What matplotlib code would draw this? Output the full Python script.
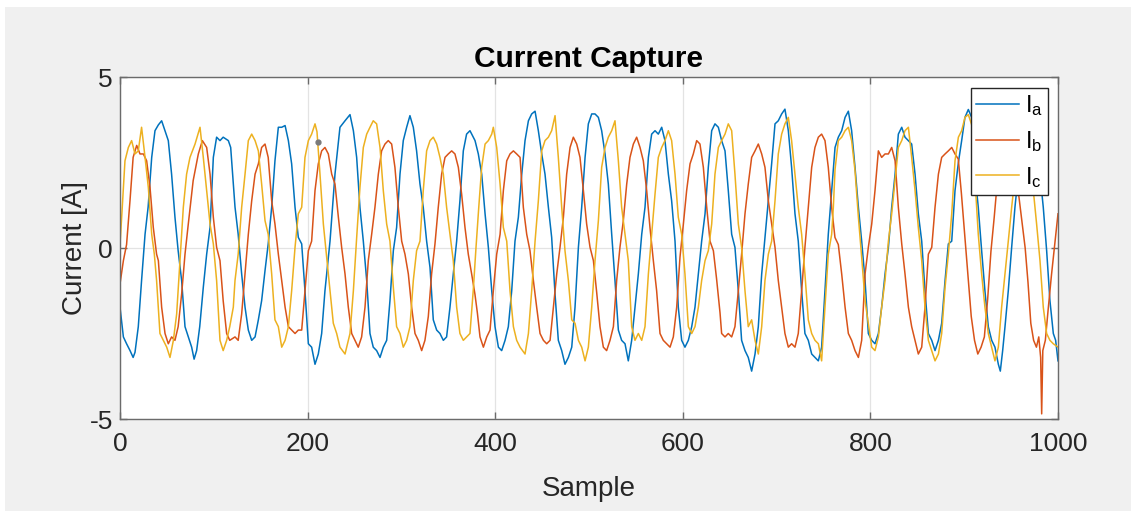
import matplotlib
matplotlib.use("Agg")
import matplotlib.pyplot as plt
from matplotlib.patches import Rectangle

# ---- three-phase current capture (sample index, amps) ----
ia_sample = [0, 3.6, 7, 10.7, 14, 16, 19.5, 23, 26.7, 30, 33.8, 37.3, 40.9, 44.4, 48, 51.5, 55, 58.6, 62,
             65.7, 69.3, 72.8, 76.4, 79, 81.7, 85, 88.8, 92.4, 96, 99.5, 103, 106.6, 110, 115.5, 118, 120.8,
             122.6, 126, 129.7, 133.3, 136.8, 140.4, 144, 147.5, 151, 154.6, 158, 161.7, 165.2, 168.8, 172.4,
             176, 179.5, 183, 186.6, 190.1, 193.7, 197.2, 200.8, 204.3, 207.9, 211.4, 215, 218.5, 223.9, 229.2,
             234.5, 239.9, 245.2, 248.8, 252.3, 255.8, 259.4, 263, 266.5, 270, 273.6, 277.2, 280.7, 284.3,
             287.8, 291.4, 294.9, 298.5, 302, 305.6, 309.1, 312.7, 316.2, 319.8, 323.3, 326.9, 330.5, 334,
             337.6, 341.1, 344.7, 348.2, 351.8, 355.3, 358.9, 362.4, 366, 369.5, 373.1, 376.7, 378.5, 382,
             385.6, 389.2, 392.7, 396.3, 399.8, 403.4, 406.9, 410.5, 414, 417.6, 421.1, 424.7, 428.3, 431.8,
             435.4, 438.9, 442.5, 446, 449.6, 453.1, 456.7, 460.2, 463.8, 467.3, 470.9, 474.4, 478, 481.6,
             485.1, 488.7, 492.2, 495.8, 499.3, 502.9, 506.4, 510, 513.5, 517.1, 520.6, 524.2, 527.7, 531.3,
             534.8, 538.4, 541.9, 545.5, 549, 552.6, 556.2, 559.7, 563.3, 566.8, 570.4, 573.9, 577.5, 581,
             584.6, 588.1, 591.7, 595.2, 598.8, 602.3, 605.9, 609.5, 613, 616.6, 620.1, 623.7, 627.2, 630.8,
             634.3, 637.9, 641.4, 645, 648.5, 652.1, 655.6, 659.2, 662.7, 666.3, 669.8, 673.4, 677, 680.5,
             684.1, 687.6, 691.2, 694.7, 698.3, 701.8, 705.4, 708.9, 712.5, 716, 719.6, 723.1, 726.7, 730.2,
             733.8, 737.4, 740.9, 744.5, 748, 751.6, 755.1, 758.7, 762.3, 765.8, 769.4, 773, 776.5, 780,
             783.6, 787.2, 790.7, 794.3, 797.8, 801.4, 804.9, 808.5, 812, 815.6, 819.2, 822.7, 826.3, 829.8,
             833.4, 836.9, 840.5, 844, 847.6, 851.1, 854.7, 858.2, 861.8, 865.4, 868.9, 872.5, 876, 879.6,
             883.1, 886.7, 890.2, 893.8, 897.3, 900.8, 904.4, 907.9, 911.5, 915, 918.6, 922.1, 925.7, 929.3,
             932.8, 936.4, 938.5, 941, 943.5, 947, 950.6, 954.1, 957.7, 963, 970, 979, 984.3, 987.9, 991.4,
             995, 997.5, 1000]
ia_current = [-1.73, -2.6, -2.8, -3.0, -3.2, -3.05, -2.3, -0.95, 0.4, 1.2, 2.65, 3.43, 3.6, 3.72, 3.43, 3.14,
              2.16, 0.9, -0.08, -0.95, -2.3, -2.6, -2.9, -3.25, -3.0, -2.3, -1.15, -0.18, 0.6, 2.65, 3.24, 3.14,
              3.24, 3.14, 2.94, 1.87, 1.2, 0.4, -0.76, -1.73, -2.4, -2.7, -2.6, -2.1, -1.54, -0.66, 0.12, 1.19,
              2.55, 3.53, 3.53, 3.58, 3.14, 2.46, 1.19, 0.31, 0.12, -1.25, -2.8, -2.9, -3.4, -3.1, -2.5, -1.25,
              0.2, 2.16, 3.53, 3.72, 3.9, 3.43, 2.65, 1.19, 0.2, -0.95, -2.5, -2.9, -3.0, -3.2, -2.9, -2.7,
              -1.54, -0.08, 0.6, 2.16, 3.14, 3.53, 3.87, 3.53, 2.84, 1.87, 1.19, 0.2, -0.57, -2.1, -2.4, -2.5,
              -2.7, -2.6, -1.73, -0.76, 0.2, 1.38, 2.84, 3.33, 3.43, 3.24, 3.14, 2.75, 2.16, 1.0, 0.02, -1.25,
              -2.3, -2.9, -3.0, -2.7, -2.3, -1.25, 0.2, 0.9, 2.16, 3.14, 3.72, 3.92, 4.0, 3.43, 2.75, 2.16,
              1.19, 0.31, -1.35, -2.7, -3.0, -3.4, -3.2, -2.9, -1.73, 0.02, 1.19, 2.65, 3.63, 3.92, 3.92, 3.82,
              3.43, 2.75, 1.87, 0.4, -0.95, -2.4, -2.7, -2.8, -3.3, -2.7, -1.73, -0.76, 0.4, 1.19, 2.65, 3.33,
              3.43, 3.33, 3.53, 3.14, 2.16, 1.38, 0.2, -1.73, -2.7, -2.9, -2.7, -2.3, -1.73, -0.76, 0.2, 1.0,
              2.36, 3.43, 3.63, 3.53, 3.14, 2.84, 1.68, 0.4, 0.02, -1.25, -2.7, -3.0, -3.2, -3.6, -3.1, -2.3,
              -0.76, 0.31, 1.38, 2.46, 3.63, 3.72, 3.92, 4.06, 3.43, 2.36, 1.0, 0.2, -1.25, -2.5, -2.7, -3.1,
              -3.2, -3.3, -2.9, -1.25, 0.4, 1.68, 2.94, 3.24, 3.43, 3.82, 4.0, 3.43, 2.36, 1.19, 0.2, -0.95,
              -2.5, -2.7, -2.8, -2.5, -1.73, -0.76, 0.02, 1.19, 2.16, 3.33, 3.53, 3.24, 3.14, 3.04, 2.16, 1.0,
              0.2, -1.25, -2.5, -2.7, -3.0, -2.7, -2.2, -0.95, 0.12, 0.2, 1.68, 2.5, 3.14, 3.82, 4.05, 3.82,
              2.16, 1.19, -0.08, -1.25, -2.3, -2.7, -2.9, -3.4, -3.6, -3.0, -2.3, -1.25, 0.02, 1.19, 2.16, 3.33,
              3.43, 2.65, 1.19, -0.08, -1.54, -2.5, -2.7, -3.3]

ib_sample = [0, 3.6, 7, 10.7, 14, 17.8, 21.3, 24.9, 28.4, 32, 35.5, 39, 40.9, 44.4, 48, 51.5, 55, 58.6, 62,
             65.7, 69.3, 72.8, 78, 83.5, 87.8, 92.4, 96, 99.5, 103, 106.6, 110, 113.7, 117, 122.6, 126, 129.7,
             133.3, 136.8, 140.4, 144, 147.5, 151, 154.6, 158, 161.7, 165.2, 168.8, 172.4, 176, 179.5, 183,
             186.6, 190.1, 193.7, 197.2, 200.8, 204.3, 207.9, 211.4, 215, 218.5, 222.1, 225.7, 229.2, 232.8,
             236.3, 239.9, 243.4, 247, 250.5, 254, 257.6, 261.2, 264.7, 268.3, 271.8, 275.4, 278.9, 282.5,
             286, 289.6, 293.1, 296.7, 300.3, 303.8, 307.4, 310.9, 314.5, 318, 321.6, 325.1, 328.7, 332.2,
             335.8, 339.3, 342.9, 346.5, 350, 353.6, 357.1, 360.7, 364.2, 367.8, 371.3, 374.9, 378.4, 381,
             383.8, 387.4, 391, 394.5, 398, 401.6, 405.2, 408.7, 412.3, 415.8, 419.4, 422.9, 426.5, 430,
             433.6, 437.1, 440.7, 444.2, 447.8, 451.4, 454.9, 458.5, 462, 465.6, 469.1, 472.7, 476.2, 479.8,
             483.3, 486.9, 490.4, 494, 497.5, 501.1, 504.7, 508.2, 511.7, 515.3, 518.8, 522.4, 526, 529.5,
             533, 536.6, 540.2, 543.7, 547.3, 550.8, 554.4, 557.9, 561.5, 565, 568.6, 572.1, 575.7, 579.2,
             582.8, 586.4, 589.9, 593.5, 597, 600.6, 604.1, 607.7, 611.2, 614.8, 618.3, 621.9, 625.5, 629,
             632.6, 636, 639.7, 641.4, 645, 648.5, 652.1, 655.6, 659.2, 662.7, 666.3, 669.8, 673.4, 677,
             680.5, 684.1, 687.6, 691.2, 694.7, 698.3, 701.8, 705.4, 708.9, 712.5, 716, 719.6, 723.1, 726.7,
             730.2, 733.8, 737.4, 740.9, 744.5, 748, 751.6, 755.1, 758.7, 762.2, 765.8, 769.4, 773, 776.5,
             780, 783.6, 787.2, 790.7, 794.3, 797.8, 801.4, 804.9, 808.5, 812, 815.6, 819.2, 822.7, 826.3,
             829.8, 833.4, 836.9, 840.5, 844, 847.6, 851.1, 854.7, 858.2, 861.8, 865.4, 868.9, 872.5, 876,
             879.6, 883.1, 886.7, 890.2, 893.7, 897, 900.5, 904, 907.5, 911, 914.5, 918, 921.5, 925, 928.5,
             932, 935.5, 939, 943, 948, 953, 957, 961, 965, 968, 971, 974, 977, 979.5, 981.5, 982.6, 983.8,
             986.5, 989.5, 993, 996.5, 1000]
ib_current = [-1.05, -0.37, 0.1, 1.4, 2.65, 3.0, 2.75, 2.75, 2.55, 1.77, 0.6, -0.18, -0.37, -1.73, -2.5, -2.8,
              -2.6, -2.7, -2.3, -1.35, -0.18, 0.7, 1.97, 2.75, 3.14, 2.94, 2.16, 0.9, 0.02, -0.37, -1.54, -2.5,
              -2.7, -2.6, -2.7, -1.93, -0.76, 0.4, 1.38, 2.16, 2.46, 2.94, 3.04, 2.65, 1.38, 0.7, -0.18, -0.95,
              -1.73, -2.3, -2.4, -2.5, -2.4, -2.4, -1.25, -0.08, 0.2, 1.68, 2.46, 2.84, 2.94, 2.75, 2.16, 1.87,
              0.9, 0.02, -0.76, -1.73, -2.5, -2.7, -2.9, -2.6, -1.73, -0.37, 0.4, 1.19, 2.16, 2.84, 3.04, 3.14,
              3.04, 2.36, 1.19, 0.2, -0.18, -0.76, -1.73, -2.5, -2.7, -3.0, -2.7, -2.0, -0.76, 0.12, 1.19, 2.16,
              2.65, 2.75, 2.84, 2.75, 2.36, 1.58, 0.6, -0.18, -0.76, -1.35, -1.9, -2.6, -2.9, -2.6, -2.4,
              -1.25, -0.18, 0.4, 1.68, 2.55, 2.75, 2.84, 2.75, 2.65, 1.19, 0.4, -0.08, -0.95, -1.73, -2.5,
              -2.7, -2.8, -2.7, -1.73, -0.76, 0.02, 0.9, 2.16, 2.94, 3.24, 3.04, 2.65, 1.68, 0.7, 0.02, -0.37,
              -1.3, -2.3, -2.9, -3.0, -2.7, -2.3, -0.95, 0.02, 0.8, 1.87, 2.65, 3.04, 3.24, 2.94, 2.55, 1.68,
              0.6, -0.37, -1.25, -2.5, -2.7, -2.8, -2.9, -2.6, -1.73, -0.27, 0.7, 1.68, 2.46, 2.75, 3.14, 3.04,
              2.36, 1.19, 0.2, -0.08, -0.9, -1.9, -2.5, -2.6, -2.5, -2.6, -2.3, -1.25, -0.18, 1.0, 1.87, 2.65,
              2.84, 3.04, 2.75, 2.36, 1.38, 0.7, 0.02, -0.95, -1.73, -2.5, -2.9, -2.8, -2.9, -2.5, -1.25,
              0.02, 1.19, 2.36, 2.94, 3.24, 3.33, 3.14, 2.36, 1.19, 0.31, 0.1, -0.76, -1.73, -2.5, -2.7, -3.0,
              -3.2, -2.7, -0.76, 0.02, 0.7, 1.68, 2.84, 2.65, 2.75, 2.75, 2.94, 2.55, 1.19, 0.12, -0.76, -1.73,
              -2.3, -2.7, -3.1, -2.9, -1.73, -0.18, 0.02, 1.19, 2.16, 2.65, 2.75, 2.84, 2.94, 2.75, 2.6, 1.6,
              0.4, -0.8, -2.0, -2.7, -3.1, -2.9, -2.6, -1.5, -0.1, 0.9, 2.0, 2.8, 3.0, 2.9, 2.6, 1.8, 0.9, 0.0,
              -1.0, -2.2, -2.7, -2.9, -2.6, -3.2, -4.85, -3.0, -2.7, -1.8, -0.8, 0.1, 1.0]

ic_sample = [0, 2, 5.3, 8.9, 12.4, 16, 19.5, 23, 26.7, 30.2, 33.8, 36.6, 39, 42.6, 46.2, 49.8, 53.3, 56.9,
             60.4, 64, 67.5, 71, 74.6, 80, 85.3, 88.8, 92.4, 96, 99.5, 103, 106.6, 110, 113.7, 117, 120.8,
             122.6, 126, 129.7, 133.3, 136.8, 140.4, 144, 147.5, 151, 154.6, 158, 161.7, 165.2, 168.8, 172.4,
             176, 179.5, 183, 186.6, 190.1, 193.7, 197.2, 200.8, 204.3, 207.9, 210, 213.2, 216.8, 220.3,
             223.9, 227.4, 231, 234.5, 239.9, 245.2, 248.8, 252.3, 255.8, 259.4, 263, 266.5, 270, 273.6,
             277.2, 280.7, 284.3, 287.8, 291.4, 294.9, 298.5, 302, 305.6, 309.1, 312.7, 316.2, 319.8, 323.3,
             326.9, 330.5, 334, 337.6, 341.1, 344.7, 348.2, 351.8, 355.3, 358.9, 362.4, 366, 369.5, 373.1,
             376.7, 379.5, 382.5, 385.6, 389.2, 392.7, 396.3, 398, 401.6, 405.2, 408.7, 412.3, 415.8, 419.4,
             422.9, 426.5, 431.8, 435.4, 438.9, 442.5, 446, 449.6, 453.1, 456.7, 460.2, 463.8, 467.3, 470.9,
             474.4, 478, 481.6, 485.1, 488.7, 492.2, 495.8, 499.3, 502.9, 506.4, 510, 513.5, 517.1, 520.6,
             524.2, 527.7, 531.3, 534.8, 538.4, 541.9, 545.5, 549, 552.6, 556.2, 559.7, 563.3, 566.8, 570.4,
             573.9, 577.5, 581, 584.6, 588.1, 591.7, 595.2, 598.8, 602.3, 605.9, 609.5, 613, 616.6, 620.1,
             623.7, 627.2, 630.8, 634.3, 637.9, 641.4, 645, 648.5, 652.1, 655.6, 659.2, 662.7, 666.3, 669.8,
             673.4, 677, 680.5, 684.1, 687.6, 691.2, 694.7, 698.3, 701.8, 705.4, 708.9, 712.5, 716, 719.6,
             723.1, 726.7, 730.2, 733.8, 737.4, 740.9, 744.5, 748, 751.6, 755.1, 758.7, 760.5, 762.3, 765.8,
             769.4, 773, 776.5, 780, 783.6, 787.2, 790.7, 794.3, 797.8, 801.4, 804.9, 808.5, 812, 815.6, 819.2,
             822.7, 826.3, 829.8, 833.4, 836.9, 840.5, 844, 847.6, 851.1, 854.7, 858.2, 861.8, 865.4, 868.9,
             872.5, 876, 879.6, 883.1, 886.7, 890.2, 893.8, 897.3, 900.8, 904.4, 908, 911.5, 915, 918.6,
             922.1, 925.7, 929.3, 932.8, 936.4, 939.9, 943.5, 947, 950.6, 955, 961.2, 968.3, 973.7, 977.2,
             980.8, 984.3, 987.9, 991.4, 995, 1000]
ic_current = [0.1, 1.0, 2.55, 2.94, 3.14, 2.75, 2.84, 3.53, 2.65, 1.77, 0.4, -0.18, -0.95, -2.5, -2.7, -2.9,
              -3.2, -2.7, -1.93, -0.37, 1.19, 2.16, 2.65, 3.04, 3.53, 2.65, 1.68, 0.7, 0.12, -0.95, -2.7, -3.0,
              -2.7, -2.3, -1.73, -0.95, -0.18, 1.19, 2.16, 3.14, 3.33, 3.14, 2.84, 1.87, 0.8, 0.4, -0.76, -2.1,
              -2.3, -2.9, -2.7, -2.3, -1.25, 0.02, 1.0, 1.19, 2.65, 3.14, 3.33, 3.63, 3.4, 2.16, 0.7, -0.27,
              -1.25, -2.2, -2.5, -2.9, -3.1, -2.5, -1.25, 0.3, 1.77, 2.94, 3.33, 3.53, 3.72, 3.63, 2.94, 1.68,
              0.7, 0.2, -1.15, -2.3, -2.5, -2.9, -2.7, -2.3, -0.95, -0.08, 0.2, 1.68, 2.84, 3.14, 3.24, 3.04,
              2.65, 2.16, 1.19, 0.4, -0.37, -1.73, -2.5, -2.7, -2.6, -2.5, -1.2, 0.0, 1.2, 2.36, 3.04, 3.14,
              3.33, 3.53, 2.94, 1.87, 0.6, 0.2, -1.25, -2.3, -2.7, -2.9, -3.1, -2.5, -1.25, 0.2, 1.38, 2.84,
              3.14, 3.24, 3.43, 3.87, 2.65, 1.19, -0.08, -0.95, -2.1, -2.2, -2.7, -2.9, -3.3, -2.9, -1.73,
              -0.37, 0.8, 2.36, 2.94, 3.24, 3.43, 3.72, 2.55, 1.19, 0.4, -0.37, -2.3, -2.7, -2.5, -2.7, -2.3,
              -0.76, 0.4, 1.58, 2.65, 2.94, 3.14, 3.43, 3.14, 2.16, 0.9, 0.4, -0.76, -2.3, -2.5, -2.3, -1.73,
              -0.95, -0.37, -0.08, 0.7, 2.16, 2.94, 3.14, 3.33, 3.63, 3.43, 2.16, 0.7, 0.02, -1.25, -2.3,
              -2.1, -2.7, -3.1, -2.3, -0.95, -0.18, 0.2, 1.38, 2.75, 3.33, 3.63, 3.82, 3.14, 2.16, 1.19, 0.4,
              -0.76, -2.1, -2.5, -2.7, -2.8, -3.3, -1.73, -0.18, 0.4, 1.2, 2.3, 3.14, 3.24, 3.43, 3.53, 3.14,
              2.26, 0.9, -0.27, -1.54, -2.2, -2.9, -3.0, -2.6, -1.73, -0.95, 0.2, 1.0, 1.97, 2.94, 3.14, 3.43,
              3.53, 2.65, 1.68, 0.6, -0.37, -1.73, -2.7, -3.0, -3.3, -3.1, -2.5, -1.15, -0.18, 1.0, 2.55, 3.24,
              3.43, 3.82, 3.9, 3.6, 2.0, 0.4, -0.76, -1.73, -2.5, -2.9, -3.3, -2.9, -1.73, -0.76, 0.2, 1.19,
              2.3, 3.14, 3.14, 1.68, 0.7, -0.37, -1.73, -2.5, -2.7, -2.8, -2.9]

# stray data-tip marker left on the trace
tip_sample = [211]
tip_current = [3.1]

series_labels = [r"$\mathregular{I_a}$", r"$\mathregular{I_b}$", r"$\mathregular{I_c}$"]
series_colors = ["#0072BD", "#D95319", "#EDB120"]
x_ticks = [0, 200, 400, 600, 800, 1000]
y_ticks = [-5, 0, 5]

plt.rcParams["font.family"] = ["Liberation Sans", "DejaVu Sans"]
plt.rcParams["mathtext.fontset"] = "custom"
plt.rcParams["mathtext.rm"] = "Liberation Sans"
plt.rcParams["mathtext.it"] = "Liberation Sans"
plt.rcParams["axes.unicode_minus"] = False

W, H = 1131, 511
fig = plt.figure(figsize=(W / 100, H / 100), dpi=100, facecolor="white")
fig.patches.append(Rectangle((5 / W, 0), 1 - 5 / W, 1 - 7 / H, transform=fig.transFigure,
                             facecolor="#f0f0f0", edgecolor="none", zorder=-10))

ax = fig.add_axes([120 / W, 1 - 419 / H, 938 / W, 342 / H])
ax.set_facecolor("white")

for xs, ys, lab, col in zip([ia_sample, ib_sample, ic_sample],
                            [ia_current, ib_current, ic_current],
                            series_labels, series_colors):
    ax.plot(xs, ys, color=col, lw=1.1, label=lab)

ax.plot(tip_sample, tip_current, "o", ms=3.5, color="#7a7a7a", mec="#7a7a7a", zorder=5)

ax.set_xlim(0, 1000)
ax.set_ylim(-5, 5)
ax.set_xticks(x_ticks)
ax.set_yticks(y_ticks)
ax.grid(True, color="#e3e3e3", lw=0.9)
ax.set_axisbelow(True)

axis_col = "#6b6b6b"
for sp in ax.spines.values():
    sp.set_color(axis_col)
    sp.set_linewidth(1.0)
ax.tick_params(direction="in", length=5, width=1.0, color=axis_col,
               top=True, right=True, labelsize=19, labelcolor="#262626")
ax.tick_params(axis="x", pad=9)
ax.tick_params(axis="y", pad=5)

ax.set_title("Current Capture", fontsize=21.5, fontweight="bold", color="black", pad=7)
ax.set_xlabel("Sample", fontsize=20, color="#262626", labelpad=15)
ax.set_ylabel("Current [A]", fontsize=20, color="#262626", labelpad=1)

leg = ax.legend(loc="upper right", bbox_to_anchor=(0.9893, 0.9678), borderaxespad=0,
                fontsize=17, frameon=True, fancybox=False, framealpha=1,
                handlelength=1.8, handletextpad=0.25, labelspacing=0.46, borderpad=0.22)
leg.get_frame().set_edgecolor("#262626")
leg.get_frame().set_linewidth(1.0)

fig.savefig("out.png", dpi=100, facecolor=fig.get_facecolor())
